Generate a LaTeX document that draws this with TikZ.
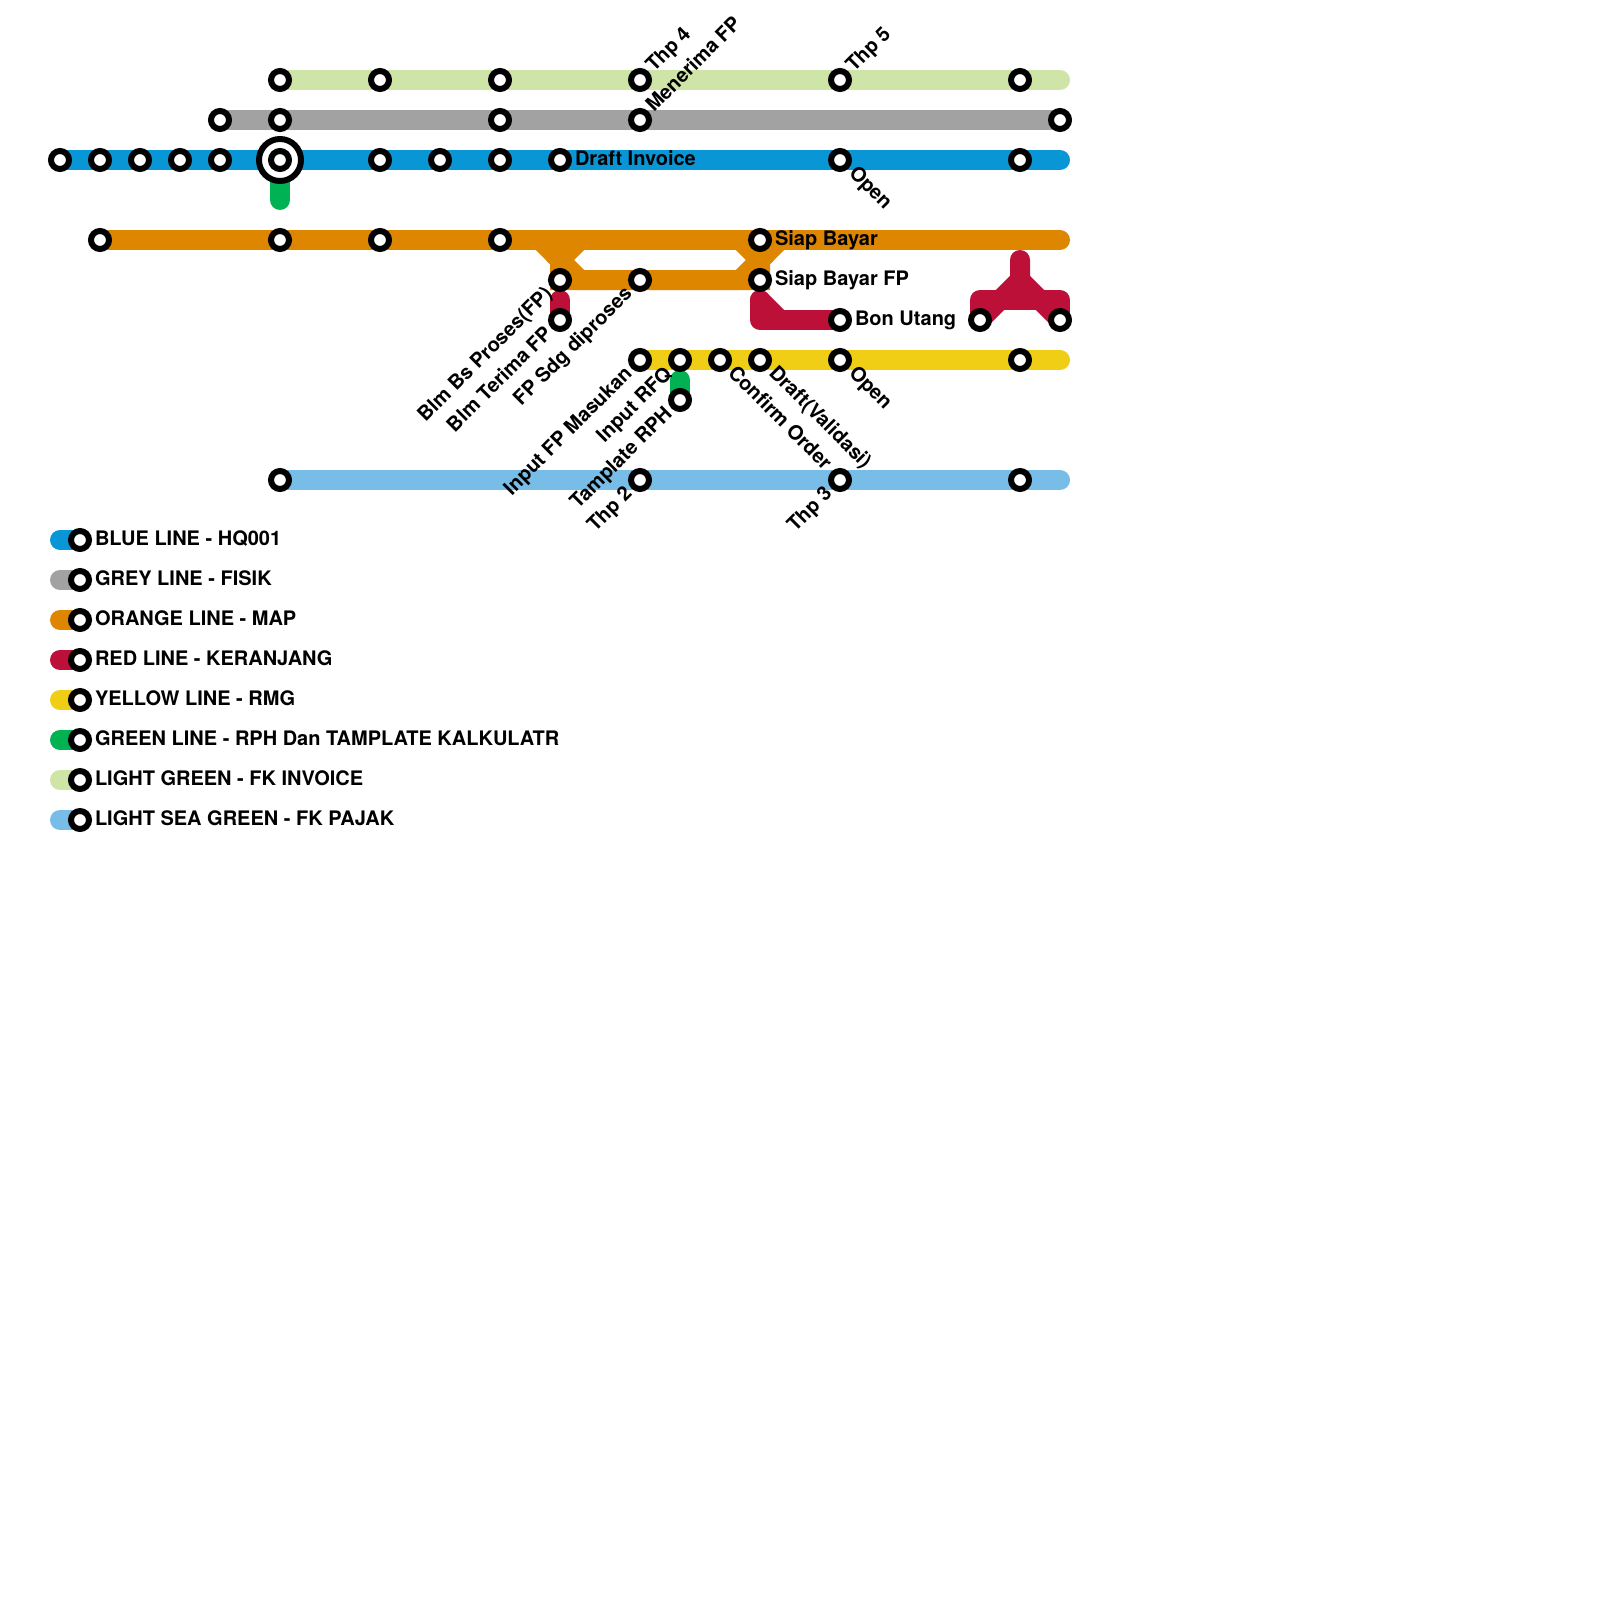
\documentclass[tikz,border=0pt]{standalone}
\usepackage{fontspec}
\setmainfont{TeX Gyre Heros}
\usetikzlibrary{backgrounds}
\definecolor{cblue}{HTML}{0896D7}
\definecolor{cgrey}{HTML}{A2A2A2}
\definecolor{corange}{HTML}{DF8600}
\definecolor{cred}{HTML}{BD1038}
\definecolor{cyellow}{HTML}{F0CE15}
\definecolor{cgreen}{HTML}{00B251}
\definecolor{clgreen}{HTML}{CFE4A7}
\definecolor{clblue}{HTML}{78BDE8}
\tikzset{
  station/.style={circle,draw=black,fill=white,line width=6pt,minimum size=18pt,inner sep=0pt,outer sep=0pt},
  bigring/.style={circle,draw=black,fill=white,line width=6pt,minimum size=42pt,inner sep=0pt,outer sep=0pt},
  metro/.style={line width=20pt,line cap=round,line join=round},
  branch/.style={line width=20pt,line cap=butt,line join=miter},
  lbl/.style={inner sep=0pt,outer sep=0pt,font=\bfseries\fontsize{20pt}{24pt}\selectfont,text=black},
  lr/.style={lbl,anchor=base west},
  lup/.style={lbl,anchor=base west,rotate=45},
  ldn/.style={lbl,anchor=base west,rotate=-45},
  lleft/.style={lbl,anchor=base east,rotate=45},
}
\newcommand{\stn}[3]{\node[station] (#1) at (#2,#3) {};}
\begin{document}
\begin{tikzpicture}[x=1pt,y=-1pt]
\useasboundingbox (0,0) rectangle (1600,1600);
% line end points
\coordinate (lgE) at (1060,80);
\coordinate (blE) at (1060,160);
\coordinate (orE) at (1060,240);
\coordinate (yeE) at (1060,360);
\coordinate (sbE) at (1060,480);
\coordinate (grE) at (280,200);
\coordinate (oa1) at (540,240);
\coordinate (oa2) at (580,240);
\coordinate (oa3) at (740,240);
\coordinate (oa4) at (780,240);
\coordinate (ox1) at (560,260);
\coordinate (ox2) at (760,260);
\coordinate (ob1) at (580,280);
\coordinate (ob2) at (740,280);
\coordinate (rs1) at (560,300);
\coordinate (rs2) at (760,300);
\coordinate (rs3) at (760,320);
\coordinate (rs4) at (780,320);
\coordinate (rt1) at (1020,260);
\coordinate (rt2) at (1020,280);
\coordinate (rt3) at (980,300);
\coordinate (rt4) at (1060,300);
\coordinate (gs1) at (680,380);
% stations
\stn{a1}{280}{80}\stn{a2}{380}{80}\stn{a3}{500}{80}\stn{a4}{640}{80}\stn{a5}{840}{80}\stn{a6}{1020}{80}
\stn{b1}{220}{120}\stn{b2}{280}{120}\stn{b3}{500}{120}\stn{b4}{640}{120}\stn{b5}{1060}{120}
\stn{c1}{60}{160}\stn{c2}{100}{160}\stn{c3}{140}{160}\stn{c4}{180}{160}\stn{c5}{220}{160}
\node[bigring] (c6o) at (280,160) {};
\stn{c6}{280}{160}
\stn{c7}{380}{160}\stn{c8}{440}{160}\stn{c9}{500}{160}\stn{c10}{560}{160}\stn{c11}{840}{160}\stn{c12}{1020}{160}
\stn{d1}{100}{240}\stn{d2}{280}{240}\stn{d3}{380}{240}\stn{d4}{500}{240}\stn{d5}{760}{240}
\stn{e1}{560}{280}\stn{e2}{640}{280}\stn{e3}{760}{280}
\stn{f1}{560}{320}\stn{f2}{840}{320}\stn{f3}{980}{320}\stn{f4}{1060}{320}
\stn{g1}{640}{360}\stn{g2}{680}{360}\stn{g3}{720}{360}\stn{g4}{760}{360}\stn{g5}{840}{360}\stn{g6}{1020}{360}
\stn{h1}{680}{400}
\stn{i1}{280}{480}\stn{i2}{640}{480}\stn{i3}{840}{480}\stn{i4}{1020}{480}
% legend
\coordinate (k1) at (60,540);\coordinate (k2) at (60,580);\coordinate (k3) at (60,620);\coordinate (k4) at (60,660);
\coordinate (k5) at (60,700);\coordinate (k6) at (60,740);\coordinate (k7) at (60,780);\coordinate (k8) at (60,820);
\stn{m1}{80}{540}\stn{m2}{80}{580}\stn{m3}{80}{620}\stn{m4}{80}{660}\stn{m5}{80}{700}\stn{m6}{80}{740}\stn{m7}{80}{780}\stn{m8}{80}{820}
\begin{pgfonlayer}{background}
\fill[white] (0,0) rectangle (1600,1600);
\draw[metro,clgreen] (a1.center) -- (lgE);
\draw[metro,cgrey] (b1.center) -- (b5.center);
\draw[metro,cgreen] (c6.center) -- (grE);
\draw[metro,cblue] (c1.center) -- (blE);
\draw[metro,corange] (d1.center) -- (orE);
\draw[branch,corange] (oa1) -- (ox1) -- (e1.center) -- (e3.center) -- (ox2) -- (oa4);
\draw[branch,corange] (oa2) -- (ox1) -- (ob1);
\draw[branch,corange] (oa3) -- (ox2) -- (ob2);
\draw[metro,cred] (rs1) -- (f1.center);
\draw[metro,cred] (rs2) -- (rs3) -- (f2.center);
\draw[metro,cred] (rs2) -- (rs4);
\draw[metro,cred] (f3.center) -- (rt3) -- (rt4) -- (f4.center);
\draw[metro,cred] (rt1) -- (rt2) -- (f3.center);
\draw[metro,cred] (rt2) -- (f4.center);
\draw[metro,cyellow] (g1.center) -- (yeE);
\draw[metro,cgreen] (gs1) -- (h1.center);
\draw[metro,clblue] (i1.center) -- (sbE);
\draw[metro,cblue] (k1) -- (m1.center);
\draw[metro,cgrey] (k2) -- (m2.center);
\draw[metro,corange] (k3) -- (m3.center);
\draw[metro,cred] (k4) -- (m4.center);
\draw[metro,cyellow] (k5) -- (m5.center);
\draw[metro,cgreen] (k6) -- (m6.center);
\draw[metro,clgreen] (k7) -- (m7.center);
\draw[metro,clblue] (k8) -- (m8.center);
\end{pgfonlayer}
% labels
\node[lr] (t1) at (575,165) {Draft Invoice};
\node[lr] (t2) at (775,245) {Siap Bayar};
\node[lr] (t3) at (775,285) {Siap Bayar FP};
\node[lr] (t4) at (855,325) {Bon Utang};
\node[lup] (t5) at (654,73) {Thp 4};
\node[lup] (t6) at (654,113) {Menerima FP};
\node[lup] (t7) at (854,73) {Thp 5};
\node[ldn] (t8) at (848,174) {Open};
\node[ldn] (t9) at (848,374) {Open};
\node[ldn] (t10) at (768,374) {Draft(Validasi)};
\node[ldn] (t11) at (727,374) {Confirm Order};
\node[lleft] (t12) at (553,295) {Blm Bs Proses(FP)};
\node[lleft] (t13) at (553,335) {Blm Terima FP};
\node[lleft] (t14) at (633,295) {FP Sdg diproses};
\node[lleft] (t15) at (633,375) {Input FP Masukan};
\node[lleft] (t16) at (673,375) {Input RFQ};
\node[lleft] (t17) at (673,415) {Tamplate RPH};
\node[lleft] (t18) at (633,495) {Thp 2};
\node[lleft] (t19) at (833,495) {Thp 3};
\node[lr] (n1) at (95,545) {BLUE LINE - HQ001};
\node[lr] (n2) at (95,585) {GREY LINE - FISIK};
\node[lr] (n3) at (95,625) {ORANGE LINE - MAP};
\node[lr] (n4) at (95,665) {RED LINE - KERANJANG};
\node[lr] (n5) at (95,705) {YELLOW LINE - RMG};
\node[lr] (n6) at (95,745) {GREEN LINE - RPH Dan TAMPLATE KALKULATR};
\node[lr] (n7) at (95,785) {LIGHT GREEN - FK INVOICE};
\node[lr] (n8) at (95,825) {LIGHT SEA GREEN - FK PAJAK};
\end{tikzpicture}
\end{document}
